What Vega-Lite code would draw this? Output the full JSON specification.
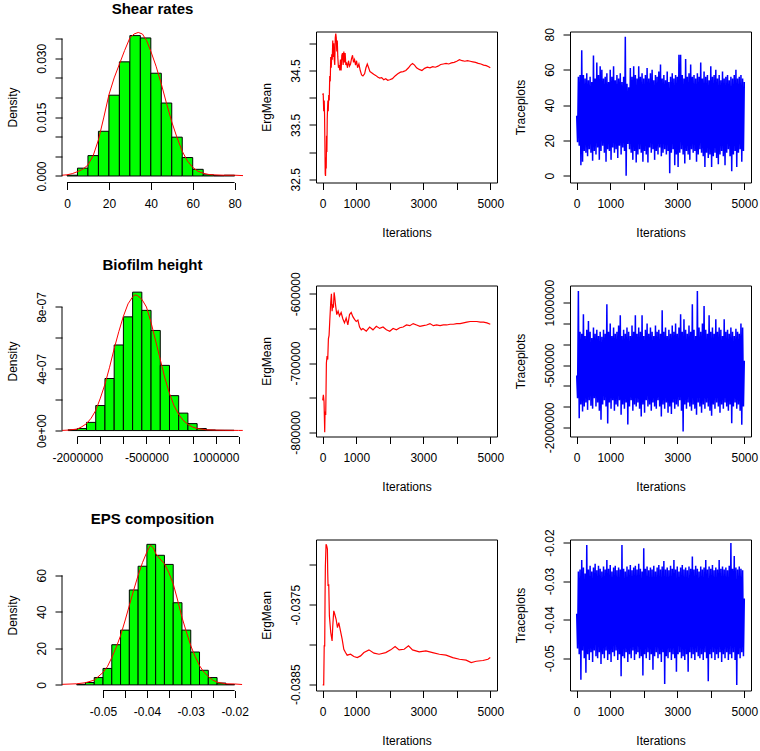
{
"$schema":"https://vega.github.io/schema/vega-lite/v6.json",
"background":"white",
"padding":{"left":5,"top":1.5,"right":5,"bottom":5},
"config":{
 "font":"Liberation Sans",
 "view":{"stroke":null},
 "axis":{"domain":false,"grid":false,"ticks":true,"tickSize":7,"tickColor":"black","tickWidth":1,"labelFont":"Liberation Sans","labelFontSize":12,"labelColor":"black","titleFont":"Liberation Sans","titleFontSize":12,"titleFontWeight":"normal","titleColor":"black","labelFlush":false,"labelOverlap":false,"labelBound":false},
 "axisLeft":{"labelAngle":270,"labelAlign":"center","labelBaseline":"alphabetic","labelPadding":10,"titleBaseline":"alphabetic","titlePadding":19},
 "axisBottom":{"labelAngle":0,"labelAlign":"center","labelBaseline":"alphabetic","labelPadding":18,"titleBaseline":"alphabetic","titlePadding":27},
 "title":{"font":"Liberation Sans","fontSize":15,"fontWeight":"bold","color":"black","anchor":"middle","frame":"group","baseline":"alphabetic","offset":13}
},
"datasets":{
 "h1":[{"a":0,"b":5,"y":0.0002},{"a":5,"b":10,"y":0.002},{"a":10,"b":15,"y":0.0052},{"a":15,"b":20,"y":0.0114},{"a":20,"b":25,"y":0.0206},{"a":25,"b":30,"y":0.0291},{"a":30,"b":35,"y":0.0358},{"a":35,"b":40,"y":0.0352},{"a":40,"b":45,"y":0.0262},{"a":45,"b":50,"y":0.0186},{"a":50,"b":55,"y":0.0099},{"a":55,"b":60,"y":0.0047},{"a":60,"b":65,"y":0.0017},{"a":65,"b":70,"y":0.0003},{"a":70,"b":75,"y":0.0001},{"a":75,"b":80,"y":0.0002}],
 "d1":[{"x":-2.4,"y":0.0002},{"x":0,"y":0.0003},{"x":2.5,"y":0.0006},{"x":5,"y":0.0011},{"x":7.5,"y":0.0017},{"x":10,"y":0.0028},{"x":12.5,"y":0.0052},{"x":15,"y":0.0092},{"x":17.5,"y":0.0148},{"x":20,"y":0.0207},{"x":22.5,"y":0.025},{"x":25,"y":0.0285},{"x":27.5,"y":0.032},{"x":30,"y":0.0352},{"x":32,"y":0.0362},{"x":34,"y":0.0366},{"x":36,"y":0.0362},{"x":38,"y":0.0345},{"x":40,"y":0.0318},{"x":42.5,"y":0.028},{"x":45,"y":0.0235},{"x":47.5,"y":0.0185},{"x":50,"y":0.0138},{"x":52.5,"y":0.0098},{"x":55,"y":0.0063},{"x":57.5,"y":0.0038},{"x":60,"y":0.0022},{"x":62.5,"y":0.0012},{"x":65,"y":0.0007},{"x":67.5,"y":0.0004},{"x":70,"y":0.0003},{"x":75,"y":0.0002},{"x":80,"y":0.0002},{"x":84,"y":0.0001}],
 "e1":[{"i":0,"v":34.05},{"i":15,"v":34.08},{"i":30,"v":33.75},{"i":45,"v":33.95},{"i":55,"v":33.7},{"i":65,"v":33.2},{"i":75,"v":32.6},{"i":85,"v":32.56},{"i":95,"v":32.9},{"i":105,"v":32.7},{"i":115,"v":33.3},{"i":125,"v":33.0},{"i":135,"v":33.6},{"i":145,"v":33.8},{"i":155,"v":33.95},{"i":165,"v":33.75},{"i":180,"v":34.05},{"i":195,"v":33.95},{"i":210,"v":34.4},{"i":225,"v":34.3},{"i":240,"v":34.75},{"i":255,"v":34.55},{"i":270,"v":34.8},{"i":285,"v":34.7},{"i":300,"v":35.05},{"i":315,"v":34.75},{"i":330,"v":35.0},{"i":345,"v":34.7},{"i":360,"v":34.6},{"i":375,"v":35.1},{"i":390,"v":35.18},{"i":405,"v":35.1},{"i":420,"v":34.85},{"i":435,"v":35.05},{"i":450,"v":34.75},{"i":470,"v":34.55},{"i":490,"v":34.6},{"i":510,"v":34.5},{"i":530,"v":34.7},{"i":550,"v":34.5},{"i":570,"v":34.78},{"i":590,"v":34.82},{"i":610,"v":34.6},{"i":630,"v":34.85},{"i":650,"v":34.65},{"i":670,"v":34.82},{"i":690,"v":34.6},{"i":710,"v":34.65},{"i":740,"v":34.55},{"i":770,"v":34.68},{"i":800,"v":34.58},{"i":830,"v":34.62},{"i":860,"v":34.72},{"i":890,"v":34.78},{"i":920,"v":34.65},{"i":950,"v":34.7},{"i":980,"v":34.6},{"i":1010,"v":34.68},{"i":1040,"v":34.55},{"i":1080,"v":34.62},{"i":1120,"v":34.5},{"i":1160,"v":34.42},{"i":1200,"v":34.4},{"i":1250,"v":34.44},{"i":1290,"v":34.55},{"i":1330,"v":34.62},{"i":1370,"v":34.55},{"i":1410,"v":34.48},{"i":1460,"v":34.46},{"i":1520,"v":34.43},{"i":1580,"v":34.41},{"i":1640,"v":34.38},{"i":1700,"v":34.36},{"i":1760,"v":34.37},{"i":1820,"v":34.33},{"i":1880,"v":34.35},{"i":1940,"v":34.32},{"i":2000,"v":34.33},{"i":2080,"v":34.35},{"i":2160,"v":34.4},{"i":2240,"v":34.44},{"i":2320,"v":34.47},{"i":2400,"v":34.48},{"i":2480,"v":34.5},{"i":2560,"v":34.55},{"i":2620,"v":34.6},{"i":2680,"v":34.63},{"i":2740,"v":34.6},{"i":2800,"v":34.55},{"i":2880,"v":34.52},{"i":2960,"v":34.5},{"i":3040,"v":34.54},{"i":3120,"v":34.56},{"i":3200,"v":34.55},{"i":3280,"v":34.57},{"i":3360,"v":34.56},{"i":3440,"v":34.58},{"i":3520,"v":34.61},{"i":3600,"v":34.62},{"i":3680,"v":34.63},{"i":3760,"v":34.62},{"i":3840,"v":34.64},{"i":3920,"v":34.65},{"i":4000,"v":34.67},{"i":4080,"v":34.7},{"i":4160,"v":34.68},{"i":4240,"v":34.67},{"i":4320,"v":34.68},{"i":4400,"v":34.67},{"i":4480,"v":34.66},{"i":4560,"v":34.65},{"i":4640,"v":34.63},{"i":4720,"v":34.62},{"i":4800,"v":34.6},{"i":4880,"v":34.59},{"i":4950,"v":34.57},{"i":5000,"v":34.55}],
 "t1":[{"i":0,"v":34},{"i":25,"v":19},{"i":50,"v":56},{"i":75,"v":17},{"i":100,"v":57},{"i":125,"v":6},{"i":150,"v":71},{"i":175,"v":8},{"i":200,"v":57},{"i":225,"v":14},{"i":250,"v":55},{"i":275,"v":13},{"i":300,"v":58},{"i":325,"v":11},{"i":350,"v":54},{"i":375,"v":15},{"i":400,"v":56},{"i":425,"v":13},{"i":450,"v":53},{"i":475,"v":8.5},{"i":500,"v":68},{"i":525,"v":14},{"i":550,"v":55},{"i":575,"v":12},{"i":600,"v":64},{"i":625,"v":16},{"i":650,"v":57},{"i":675,"v":9},{"i":700,"v":62},{"i":725,"v":14},{"i":750,"v":60},{"i":775,"v":17},{"i":800,"v":55},{"i":825,"v":13},{"i":850,"v":56},{"i":875,"v":8},{"i":900,"v":58},{"i":925,"v":15},{"i":950,"v":53},{"i":975,"v":14},{"i":1000,"v":60},{"i":1025,"v":9},{"i":1050,"v":56},{"i":1075,"v":16},{"i":1100,"v":62},{"i":1125,"v":13},{"i":1150,"v":54},{"i":1175,"v":15},{"i":1200,"v":57},{"i":1225,"v":10},{"i":1250,"v":55},{"i":1275,"v":17},{"i":1300,"v":58},{"i":1325,"v":12},{"i":1350,"v":53},{"i":1375,"v":16},{"i":1400,"v":56},{"i":1425,"v":14},{"i":1450,"v":78.6},{"i":1475,"v":0},{"i":1500,"v":52},{"i":1525,"v":18},{"i":1550,"v":50},{"i":1575,"v":15},{"i":1600,"v":61},{"i":1625,"v":13},{"i":1650,"v":56},{"i":1675,"v":9},{"i":1700,"v":62},{"i":1725,"v":14},{"i":1750,"v":57},{"i":1775,"v":7.5},{"i":1800,"v":55},{"i":1825,"v":12},{"i":1850,"v":62},{"i":1875,"v":15},{"i":1900,"v":56},{"i":1925,"v":13},{"i":1950,"v":58},{"i":1975,"v":8},{"i":2000,"v":55},{"i":2025,"v":14},{"i":2050,"v":57},{"i":2075,"v":12},{"i":2100,"v":61},{"i":2125,"v":7.5},{"i":2150,"v":55},{"i":2175,"v":16},{"i":2200,"v":58},{"i":2225,"v":13},{"i":2250,"v":60},{"i":2275,"v":15},{"i":2300,"v":54},{"i":2325,"v":9},{"i":2350,"v":57},{"i":2375,"v":14},{"i":2400,"v":56},{"i":2425,"v":12},{"i":2450,"v":59},{"i":2475,"v":16},{"i":2500,"v":63},{"i":2525,"v":11},{"i":2550,"v":55},{"i":2575,"v":13},{"i":2600,"v":57},{"i":2625,"v":15},{"i":2650,"v":54},{"i":2675,"v":12},{"i":2700,"v":59},{"i":2725,"v":14},{"i":2750,"v":53},{"i":2775,"v":1.5},{"i":2800,"v":56},{"i":2825,"v":13},{"i":2850,"v":58},{"i":2875,"v":15},{"i":2900,"v":55},{"i":2925,"v":6},{"i":2950,"v":57},{"i":2975,"v":12},{"i":3000,"v":56},{"i":3025,"v":5},{"i":3050,"v":68.5},{"i":3075,"v":13},{"i":3100,"v":68.5},{"i":3125,"v":15},{"i":3150,"v":57},{"i":3175,"v":12},{"i":3200,"v":55},{"i":3225,"v":7},{"i":3250,"v":66},{"i":3275,"v":14},{"i":3300,"v":56},{"i":3325,"v":12},{"i":3350,"v":58},{"i":3375,"v":9},{"i":3400,"v":63},{"i":3425,"v":15},{"i":3450,"v":56},{"i":3475,"v":13},{"i":3500,"v":57},{"i":3525,"v":14},{"i":3550,"v":55},{"i":3575,"v":8},{"i":3600,"v":58},{"i":3625,"v":12},{"i":3650,"v":56},{"i":3675,"v":15},{"i":3700,"v":64},{"i":3725,"v":13},{"i":3750,"v":55},{"i":3775,"v":11},{"i":3800,"v":59},{"i":3825,"v":5},{"i":3850,"v":56},{"i":3875,"v":13},{"i":3900,"v":57},{"i":3925,"v":10},{"i":3950,"v":54},{"i":3975,"v":12},{"i":4000,"v":62},{"i":4025,"v":5},{"i":4050,"v":56},{"i":4075,"v":11},{"i":4100,"v":57},{"i":4125,"v":13},{"i":4150,"v":60},{"i":4175,"v":10},{"i":4200,"v":55},{"i":4225,"v":6.5},{"i":4250,"v":57},{"i":4275,"v":12},{"i":4300,"v":54},{"i":4325,"v":14},{"i":4350,"v":59},{"i":4375,"v":11},{"i":4400,"v":55},{"i":4425,"v":6},{"i":4450,"v":56},{"i":4475,"v":13},{"i":4500,"v":57},{"i":4525,"v":15},{"i":4550,"v":54},{"i":4575,"v":11},{"i":4600,"v":56},{"i":4625,"v":2.5},{"i":4650,"v":55},{"i":4675,"v":12},{"i":4700,"v":57},{"i":4725,"v":14},{"i":4750,"v":60},{"i":4775,"v":5},{"i":4800,"v":55},{"i":4825,"v":13},{"i":4850,"v":56},{"i":4875,"v":15},{"i":4900,"v":57},{"i":4925,"v":8},{"i":4950,"v":55},{"i":4975,"v":14},{"i":5000,"v":53}],
 "h2":[{"a":-2200000,"b":-2000000,"y":5e-9},{"a":-2000000,"b":-1800000,"y":1.3e-8},{"a":-1800000,"b":-1600000,"y":5.3e-8},{"a":-1600000,"b":-1400000,"y":1.62e-7},{"a":-1400000,"b":-1200000,"y":3.37e-7},{"a":-1200000,"b":-1000000,"y":5.54e-7},{"a":-1000000,"b":-800000,"y":7.36e-7},{"a":-800000,"b":-600000,"y":8.96e-7},{"a":-600000,"b":-400000,"y":7.78e-7},{"a":-400000,"b":-200000,"y":6.48e-7},{"a":-200000,"b":0,"y":4.22e-7},{"a":0,"b":200000,"y":2.26e-7},{"a":200000,"b":400000,"y":1.13e-7},{"a":400000,"b":600000,"y":4.5e-8},{"a":600000,"b":800000,"y":1.3e-8},{"a":800000,"b":1000000,"y":4e-9},{"a":1000000,"b":1200000,"y":2e-9},{"a":1200000,"b":1400000,"y":2e-9}],
 "d2":[{"x":-2330000,"y":1e-9},{"x":-2200000,"y":3e-9},{"x":-2000000,"y":1e-8},{"x":-1900000,"y":2.5e-8},{"x":-1800000,"y":4.5e-8},{"x":-1700000,"y":8e-8},{"x":-1600000,"y":1.3e-7},{"x":-1500000,"y":2.1e-7},{"x":-1400000,"y":3.0e-7},{"x":-1300000,"y":4.1e-7},{"x":-1200000,"y":5.3e-7},{"x":-1100000,"y":6.4e-7},{"x":-1000000,"y":7.4e-7},{"x":-900000,"y":8.2e-7},{"x":-800000,"y":8.65e-7},{"x":-750000,"y":8.78e-7},{"x":-700000,"y":8.75e-7},{"x":-600000,"y":8.5e-7},{"x":-500000,"y":8.0e-7},{"x":-400000,"y":7.0e-7},{"x":-300000,"y":5.8e-7},{"x":-200000,"y":4.6e-7},{"x":-100000,"y":3.4e-7},{"x":0,"y":2.4e-7},{"x":100000,"y":1.6e-7},{"x":200000,"y":1.05e-7},{"x":300000,"y":6.5e-8},{"x":400000,"y":4e-8},{"x":500000,"y":2.3e-8},{"x":600000,"y":1.3e-8},{"x":800000,"y":5e-9},{"x":1000000,"y":3e-9},{"x":1200000,"y":2e-9},{"x":1500000,"y":1e-9},{"x":1590000,"y":1e-9}],
 "e2":[{"i":0,"v":-754000},{"i":20,"v":-746000},{"i":40,"v":-756000},{"i":60,"v":-800000},{"i":70,"v":-770000},{"i":90,"v":-775000},{"i":110,"v":-700000},{"i":130,"v":-690000},{"i":150,"v":-695000},{"i":170,"v":-665000},{"i":190,"v":-660000},{"i":210,"v":-640000},{"i":240,"v":-612000},{"i":260,"v":-600000},{"i":280,"v":-625000},{"i":300,"v":-615000},{"i":320,"v":-620000},{"i":340,"v":-598000},{"i":360,"v":-605000},{"i":380,"v":-615000},{"i":420,"v":-630000},{"i":460,"v":-625000},{"i":500,"v":-632000},{"i":550,"v":-627000},{"i":600,"v":-636000},{"i":650,"v":-642000},{"i":700,"v":-635000},{"i":750,"v":-645000},{"i":800,"v":-630000},{"i":850,"v":-627000},{"i":900,"v":-633000},{"i":950,"v":-637000},{"i":1000,"v":-640000},{"i":1050,"v":-638000},{"i":1100,"v":-648000},{"i":1150,"v":-652000},{"i":1200,"v":-650000},{"i":1300,"v":-654000},{"i":1400,"v":-648000},{"i":1500,"v":-652000},{"i":1600,"v":-647000},{"i":1700,"v":-650000},{"i":1800,"v":-648000},{"i":1900,"v":-652000},{"i":2000,"v":-654000},{"i":2100,"v":-650000},{"i":2200,"v":-652000},{"i":2300,"v":-649000},{"i":2400,"v":-648000},{"i":2500,"v":-645000},{"i":2600,"v":-646000},{"i":2700,"v":-643000},{"i":2800,"v":-645000},{"i":2900,"v":-647000},{"i":3000,"v":-646000},{"i":3100,"v":-645000},{"i":3200,"v":-643000},{"i":3300,"v":-646000},{"i":3400,"v":-645000},{"i":3500,"v":-646000},{"i":3600,"v":-645000},{"i":3700,"v":-645000},{"i":3800,"v":-644000},{"i":3900,"v":-644000},{"i":4000,"v":-643000},{"i":4100,"v":-643000},{"i":4200,"v":-642000},{"i":4300,"v":-641000},{"i":4400,"v":-640000},{"i":4500,"v":-640000},{"i":4600,"v":-640000},{"i":4700,"v":-641000},{"i":4800,"v":-641000},{"i":4900,"v":-642000},{"i":5000,"v":-644000}],
 "t2":[{"i":0,"v":-750000},{"i":25,"v":-1300000},{"i":50,"v":1280000},{"i":75,"v":-1780000},{"i":100,"v":300000},{"i":125,"v":-1450000},{"i":150,"v":250000},{"i":175,"v":-1620000},{"i":200,"v":720000},{"i":225,"v":-1500000},{"i":250,"v":200000},{"i":275,"v":-1400000},{"i":300,"v":350000},{"i":325,"v":-1580000},{"i":350,"v":560000},{"i":375,"v":-1350000},{"i":400,"v":300000},{"i":425,"v":-1480000},{"i":450,"v":150000},{"i":475,"v":-1550000},{"i":500,"v":400000},{"i":525,"v":-1300000},{"i":550,"v":250000},{"i":575,"v":-1500000},{"i":600,"v":350000},{"i":625,"v":-1400000},{"i":650,"v":200000},{"i":675,"v":-1600000},{"i":700,"v":300000},{"i":725,"v":-1820000},{"i":750,"v":180000},{"i":775,"v":-1450000},{"i":800,"v":350000},{"i":825,"v":-1350000},{"i":850,"v":250000},{"i":875,"v":-1500000},{"i":900,"v":960000},{"i":925,"v":-1910000},{"i":950,"v":300000},{"i":975,"v":-1400000},{"i":1000,"v":500000},{"i":1025,"v":-1550000},{"i":1050,"v":200000},{"i":1075,"v":-1350000},{"i":1100,"v":400000},{"i":1125,"v":-1600000},{"i":1150,"v":250000},{"i":1175,"v":-1450000},{"i":1200,"v":300000},{"i":1225,"v":-1500000},{"i":1250,"v":450000},{"i":1275,"v":-1350000},{"i":1300,"v":700000},{"i":1325,"v":-1700000},{"i":1350,"v":200000},{"i":1375,"v":-1450000},{"i":1400,"v":350000},{"i":1425,"v":-1550000},{"i":1450,"v":250000},{"i":1475,"v":-1400000},{"i":1500,"v":400000},{"i":1525,"v":-1930000},{"i":1550,"v":300000},{"i":1575,"v":-1500000},{"i":1600,"v":200000},{"i":1625,"v":-1350000},{"i":1650,"v":450000},{"i":1675,"v":-1600000},{"i":1700,"v":300000},{"i":1725,"v":-1450000},{"i":1750,"v":700000},{"i":1775,"v":-1500000},{"i":1800,"v":250000},{"i":1825,"v":-1400000},{"i":1850,"v":400000},{"i":1875,"v":-1550000},{"i":1900,"v":300000},{"i":1925,"v":-1740000},{"i":1950,"v":700000},{"i":1975,"v":-1450000},{"i":2000,"v":200000},{"i":2025,"v":-1650000},{"i":2050,"v":350000},{"i":2075,"v":-1350000},{"i":2100,"v":500000},{"i":2125,"v":-1500000},{"i":2150,"v":250000},{"i":2175,"v":-1450000},{"i":2200,"v":400000},{"i":2225,"v":-1600000},{"i":2250,"v":300000},{"i":2275,"v":-1400000},{"i":2300,"v":200000},{"i":2325,"v":-1500000},{"i":2350,"v":450000},{"i":2375,"v":-1550000},{"i":2400,"v":300000},{"i":2425,"v":-1350000},{"i":2450,"v":350000},{"i":2475,"v":-1500000},{"i":2500,"v":250000},{"i":2525,"v":-1740000},{"i":2550,"v":820000},{"i":2575,"v":-1450000},{"i":2600,"v":300000},{"i":2625,"v":-1550000},{"i":2650,"v":400000},{"i":2675,"v":-1400000},{"i":2700,"v":200000},{"i":2725,"v":-1650000},{"i":2750,"v":350000},{"i":2775,"v":-1500000},{"i":2800,"v":250000},{"i":2825,"v":-1680000},{"i":2850,"v":450000},{"i":2875,"v":-1400000},{"i":2900,"v":300000},{"i":2925,"v":-1550000},{"i":2950,"v":500000},{"i":2975,"v":-1450000},{"i":3000,"v":250000},{"i":3025,"v":-1500000},{"i":3050,"v":400000},{"i":3075,"v":-1350000},{"i":3100,"v":720000},{"i":3125,"v":-1600000},{"i":3150,"v":300000},{"i":3175,"v":-2100000},{"i":3200,"v":600000},{"i":3225,"v":-1450000},{"i":3250,"v":350000},{"i":3275,"v":-1550000},{"i":3300,"v":250000},{"i":3325,"v":-1400000},{"i":3350,"v":450000},{"i":3375,"v":-1500000},{"i":3400,"v":300000},{"i":3425,"v":-1600000},{"i":3450,"v":960000},{"i":3475,"v":-1450000},{"i":3500,"v":350000},{"i":3525,"v":-1550000},{"i":3550,"v":200000},{"i":3575,"v":-1700000},{"i":3600,"v":1280000},{"i":3625,"v":-1400000},{"i":3650,"v":400000},{"i":3675,"v":-1500000},{"i":3700,"v":300000},{"i":3725,"v":-1650000},{"i":3750,"v":500000},{"i":3775,"v":-1450000},{"i":3800,"v":920000},{"i":3825,"v":-1550000},{"i":3850,"v":350000},{"i":3875,"v":-1400000},{"i":3900,"v":250000},{"i":3925,"v":-1500000},{"i":3950,"v":700000},{"i":3975,"v":-1600000},{"i":4000,"v":300000},{"i":4025,"v":-1720000},{"i":4050,"v":400000},{"i":4075,"v":-1450000},{"i":4100,"v":250000},{"i":4125,"v":-1550000},{"i":4150,"v":600000},{"i":4175,"v":-1400000},{"i":4200,"v":300000},{"i":4225,"v":-1500000},{"i":4250,"v":400000},{"i":4275,"v":-1650000},{"i":4300,"v":350000},{"i":4325,"v":-1450000},{"i":4350,"v":200000},{"i":4375,"v":-1550000},{"i":4400,"v":600000},{"i":4425,"v":-1400000},{"i":4450,"v":300000},{"i":4475,"v":-1500000},{"i":4500,"v":350000},{"i":4525,"v":-1600000},{"i":4550,"v":250000},{"i":4575,"v":-1450000},{"i":4600,"v":400000},{"i":4625,"v":-1900000},{"i":4650,"v":300000},{"i":4675,"v":-1500000},{"i":4700,"v":200000},{"i":4725,"v":-1400000},{"i":4750,"v":370000},{"i":4775,"v":-1550000},{"i":4800,"v":300000},{"i":4825,"v":-1450000},{"i":4850,"v":250000},{"i":4875,"v":-1600000},{"i":4900,"v":500000},{"i":4925,"v":-1940000},{"i":4950,"v":400000},{"i":4975,"v":-1500000},{"i":5000,"v":-400000}],
 "h3":[{"a":-0.056,"b":-0.054,"y":0.3},{"a":-0.054,"b":-0.052,"y":1.3},{"a":-0.052,"b":-0.05,"y":4},{"a":-0.05,"b":-0.048,"y":9},{"a":-0.048,"b":-0.046,"y":22},{"a":-0.046,"b":-0.044,"y":30},{"a":-0.044,"b":-0.042,"y":52},{"a":-0.042,"b":-0.04,"y":65},{"a":-0.04,"b":-0.038,"y":77},{"a":-0.038,"b":-0.036,"y":71},{"a":-0.036,"b":-0.034,"y":66},{"a":-0.034,"b":-0.032,"y":45},{"a":-0.032,"b":-0.03,"y":30},{"a":-0.03,"b":-0.028,"y":18},{"a":-0.028,"b":-0.026,"y":8},{"a":-0.026,"b":-0.024,"y":4},{"a":-0.024,"b":-0.022,"y":1},{"a":-0.022,"b":-0.02,"y":0.2}],
 "d3":[{"x":-0.0593,"y":0.3},{"x":-0.056,"y":0.6},{"x":-0.054,"y":1.2},{"x":-0.052,"y":2.6},{"x":-0.05,"y":6.8},{"x":-0.049,"y":10},{"x":-0.048,"y":15},{"x":-0.047,"y":20.5},{"x":-0.046,"y":27},{"x":-0.045,"y":35},{"x":-0.044,"y":43.5},{"x":-0.043,"y":52},{"x":-0.042,"y":60},{"x":-0.041,"y":67},{"x":-0.04,"y":72.8},{"x":-0.0392,"y":76.5},{"x":-0.0385,"y":75},{"x":-0.038,"y":72},{"x":-0.037,"y":69},{"x":-0.036,"y":66.4},{"x":-0.035,"y":61.5},{"x":-0.034,"y":55.4},{"x":-0.033,"y":46.5},{"x":-0.032,"y":37},{"x":-0.031,"y":29},{"x":-0.03,"y":21.5},{"x":-0.029,"y":15.5},{"x":-0.028,"y":10.5},{"x":-0.027,"y":7},{"x":-0.026,"y":4.6},{"x":-0.025,"y":2.7},{"x":-0.024,"y":1.5},{"x":-0.022,"y":0.6},{"x":-0.02,"y":0.5},{"x":-0.0183,"y":0.2}],
 "e3":[{"i":0,"v":-0.038508},{"i":30,"v":-0.038508},{"i":45,"v":-0.038018},{"i":60,"v":-0.038018},{"i":70,"v":-0.0374},{"i":80,"v":-0.037012},{"i":100,"v":-0.03674},{"i":120,"v":-0.03676},{"i":140,"v":-0.0368},{"i":150,"v":-0.0371},{"i":160,"v":-0.037264},{"i":180,"v":-0.037243},{"i":200,"v":-0.037641},{"i":240,"v":-0.03785},{"i":280,"v":-0.037955},{"i":300,"v":-0.037767},{"i":330,"v":-0.037578},{"i":360,"v":-0.03762},{"i":400,"v":-0.037683},{"i":440,"v":-0.037788},{"i":480,"v":-0.037725},{"i":530,"v":-0.037829},{"i":580,"v":-0.037934},{"i":630,"v":-0.03806},{"i":680,"v":-0.038102},{"i":730,"v":-0.038135},{"i":830,"v":-0.038123},{"i":930,"v":-0.038152},{"i":1030,"v":-0.038165},{"i":1130,"v":-0.038144},{"i":1230,"v":-0.038102},{"i":1380,"v":-0.038068},{"i":1530,"v":-0.03811},{"i":1680,"v":-0.038123},{"i":1880,"v":-0.038102},{"i":2030,"v":-0.038068},{"i":2160,"v":-0.038026},{"i":2280,"v":-0.038068},{"i":2430,"v":-0.03806},{"i":2560,"v":-0.038018},{"i":2680,"v":-0.038068},{"i":2880,"v":-0.038093},{"i":3080,"v":-0.038081},{"i":3280,"v":-0.038102},{"i":3480,"v":-0.038123},{"i":3680,"v":-0.038135},{"i":3880,"v":-0.038165},{"i":4080,"v":-0.038186},{"i":4280,"v":-0.038198},{"i":4430,"v":-0.038228},{"i":4580,"v":-0.038211},{"i":4780,"v":-0.038202},{"i":4930,"v":-0.038186},{"i":5000,"v":-0.038165}],
 "t3":[{"i":0,"v":-0.0385},{"i":25,"v":-0.0475},{"i":50,"v":-0.0275},{"i":75,"v":-0.049},{"i":100,"v":-0.027},{"i":125,"v":-0.0556},{"i":150,"v":-0.0245},{"i":175,"v":-0.048},{"i":200,"v":-0.0265},{"i":225,"v":-0.05},{"i":250,"v":-0.028},{"i":275,"v":-0.0538},{"i":300,"v":-0.0206},{"i":325,"v":-0.049},{"i":350,"v":-0.027},{"i":375,"v":-0.0505},{"i":400,"v":-0.026},{"i":425,"v":-0.0485},{"i":450,"v":-0.0275},{"i":475,"v":-0.051},{"i":500,"v":-0.0265},{"i":525,"v":-0.048},{"i":550,"v":-0.0255},{"i":575,"v":-0.0495},{"i":600,"v":-0.0272},{"i":625,"v":-0.05},{"i":650,"v":-0.026},{"i":675,"v":-0.0485},{"i":700,"v":-0.0268},{"i":725,"v":-0.0515},{"i":750,"v":-0.0275},{"i":775,"v":-0.049},{"i":800,"v":-0.0262},{"i":825,"v":-0.05},{"i":850,"v":-0.027},{"i":875,"v":-0.048},{"i":900,"v":-0.0245},{"i":925,"v":-0.0505},{"i":950,"v":-0.0268},{"i":975,"v":-0.049},{"i":1000,"v":-0.0258},{"i":1025,"v":-0.051},{"i":1050,"v":-0.0275},{"i":1075,"v":-0.0485},{"i":1100,"v":-0.0265},{"i":1125,"v":-0.0495},{"i":1150,"v":-0.026},{"i":1175,"v":-0.048},{"i":1200,"v":-0.0272},{"i":1225,"v":-0.0505},{"i":1250,"v":-0.0265},{"i":1275,"v":-0.049},{"i":1300,"v":-0.027},{"i":1325,"v":-0.0547},{"i":1350,"v":-0.0206},{"i":1375,"v":-0.0495},{"i":1400,"v":-0.0268},{"i":1425,"v":-0.05},{"i":1450,"v":-0.0275},{"i":1475,"v":-0.0485},{"i":1500,"v":-0.0262},{"i":1525,"v":-0.051},{"i":1550,"v":-0.027},{"i":1575,"v":-0.049},{"i":1600,"v":-0.0258},{"i":1625,"v":-0.05},{"i":1650,"v":-0.0272},{"i":1675,"v":-0.048},{"i":1700,"v":-0.0265},{"i":1725,"v":-0.0505},{"i":1750,"v":-0.026},{"i":1775,"v":-0.049},{"i":1800,"v":-0.027},{"i":1825,"v":-0.0485},{"i":1850,"v":-0.0255},{"i":1875,"v":-0.05},{"i":1900,"v":-0.0268},{"i":1925,"v":-0.0495},{"i":1950,"v":-0.0275},{"i":1975,"v":-0.0545},{"i":2000,"v":-0.0215},{"i":2025,"v":-0.049},{"i":2050,"v":-0.0268},{"i":2075,"v":-0.05},{"i":2100,"v":-0.0262},{"i":2125,"v":-0.0485},{"i":2150,"v":-0.0272},{"i":2175,"v":-0.0505},{"i":2200,"v":-0.0265},{"i":2225,"v":-0.049},{"i":2250,"v":-0.027},{"i":2275,"v":-0.053},{"i":2300,"v":-0.026},{"i":2325,"v":-0.0495},{"i":2350,"v":-0.0275},{"i":2375,"v":-0.0485},{"i":2400,"v":-0.0265},{"i":2425,"v":-0.05},{"i":2450,"v":-0.0258},{"i":2475,"v":-0.049},{"i":2500,"v":-0.027},{"i":2525,"v":-0.051},{"i":2550,"v":-0.0262},{"i":2575,"v":-0.0485},{"i":2600,"v":-0.0248},{"i":2625,"v":-0.0567},{"i":2650,"v":-0.027},{"i":2675,"v":-0.0495},{"i":2700,"v":-0.0265},{"i":2725,"v":-0.05},{"i":2750,"v":-0.0272},{"i":2775,"v":-0.0485},{"i":2800,"v":-0.026},{"i":2825,"v":-0.0505},{"i":2850,"v":-0.0268},{"i":2875,"v":-0.049},{"i":2900,"v":-0.0245},{"i":2925,"v":-0.05},{"i":2950,"v":-0.027},{"i":2975,"v":-0.0535},{"i":3000,"v":-0.0262},{"i":3025,"v":-0.049},{"i":3050,"v":-0.0275},{"i":3075,"v":-0.0485},{"i":3100,"v":-0.0265},{"i":3125,"v":-0.05},{"i":3150,"v":-0.0258},{"i":3175,"v":-0.0495},{"i":3200,"v":-0.027},{"i":3225,"v":-0.0505},{"i":3250,"v":-0.0265},{"i":3275,"v":-0.049},{"i":3300,"v":-0.0272},{"i":3325,"v":-0.0535},{"i":3350,"v":-0.0262},{"i":3375,"v":-0.0485},{"i":3400,"v":-0.0268},{"i":3425,"v":-0.05},{"i":3450,"v":-0.0236},{"i":3475,"v":-0.049},{"i":3500,"v":-0.027},{"i":3525,"v":-0.0505},{"i":3550,"v":-0.026},{"i":3575,"v":-0.0485},{"i":3600,"v":-0.0268},{"i":3625,"v":-0.0495},{"i":3650,"v":-0.0275},{"i":3675,"v":-0.05},{"i":3700,"v":-0.0262},{"i":3725,"v":-0.049},{"i":3750,"v":-0.027},{"i":3775,"v":-0.0505},{"i":3800,"v":-0.0265},{"i":3825,"v":-0.0485},{"i":3850,"v":-0.0245},{"i":3875,"v":-0.05},{"i":3900,"v":-0.027},{"i":3925,"v":-0.056},{"i":3950,"v":-0.0262},{"i":3975,"v":-0.049},{"i":4000,"v":-0.0268},{"i":4025,"v":-0.05},{"i":4050,"v":-0.0258},{"i":4075,"v":-0.0485},{"i":4100,"v":-0.0272},{"i":4125,"v":-0.0505},{"i":4150,"v":-0.0265},{"i":4175,"v":-0.049},{"i":4200,"v":-0.027},{"i":4225,"v":-0.05},{"i":4250,"v":-0.0245},{"i":4275,"v":-0.0485},{"i":4300,"v":-0.0268},{"i":4325,"v":-0.051},{"i":4350,"v":-0.0262},{"i":4375,"v":-0.049},{"i":4400,"v":-0.027},{"i":4425,"v":-0.05},{"i":4450,"v":-0.0265},{"i":4475,"v":-0.0485},{"i":4500,"v":-0.0272},{"i":4525,"v":-0.0505},{"i":4550,"v":-0.026},{"i":4575,"v":-0.049},{"i":4600,"v":-0.0201},{"i":4625,"v":-0.05},{"i":4650,"v":-0.0268},{"i":4675,"v":-0.0485},{"i":4700,"v":-0.0235},{"i":4725,"v":-0.0505},{"i":4750,"v":-0.0265},{"i":4775,"v":-0.057},{"i":4800,"v":-0.027},{"i":4825,"v":-0.049},{"i":4850,"v":-0.0262},{"i":4875,"v":-0.05},{"i":4900,"v":-0.0268},{"i":4925,"v":-0.0485},{"i":4950,"v":-0.0272},{"i":4975,"v":-0.0495},{"i":5000,"v":-0.0345}]
},
"columns":3,
"spacing":{"row":103,"column":73},
"bounds":"flush",
"concat":[
 {"width":181,"height":151,"view":{"stroke":null},"title":{"text":"Shear rates"},
  "resolve":{"axis":{"x":"independent","y":"independent"}},
  "layer":[
   {"data":{"name":"h1"},"mark":{"type":"bar","fill":"#00FF00","stroke":"black","strokeWidth":1},
    "encoding":{"x":{"field":"a","type":"quantitative","title":null,"scale":{"domain":[-2.39,84.0],"nice":false,"zero":false},"axis":{"title":null,"labelOverlap":false,"values":[0,20,40,60,80],"format":"d"}},
     "x2":{"field":"b"},
     "y":{"field":"y","type":"quantitative","title":"Density","scale":{"domain":[-0.00166,0.03684],"nice":false,"zero":false},"axis":{"title":"Density","labelOverlap":false,"values":[0,0.005,0.01,0.015,0.02,0.025,0.03,0.035],"format":".3f","labelExpr":"indexof([0,0.015,0.03],datum.value) >= 0 ? datum.label : ''"}},
     "y2":{"datum":0}}},
   {"data":{"name":"d1"},"mark":{"type":"line","color":"#FF0000","strokeWidth":1},
    "encoding":{"x":{"field":"x","type":"quantitative","axis":null,"scale":{"domain":[-2.39,84.0],"nice":false,"zero":false}},"y":{"field":"y","type":"quantitative","axis":null,"scale":{"domain":[-0.00166,0.03684],"nice":false,"zero":false}}}},
   {"data":{"values":[{}]},"mark":{"type":"rule","color":"black","strokeWidth":1},
    "encoding":{"x":{"datum":0,"type":"quantitative","axis":null},"x2":{"datum":80},"y":{"datum":-0.00166,"type":"quantitative","axis":null}}},
   {"data":{"values":[{}]},"mark":{"type":"rule","color":"black","strokeWidth":1},
    "encoding":{"x":{"datum":-2.39,"type":"quantitative","axis":null},"y":{"datum":0,"type":"quantitative","axis":null},"y2":{"datum":0.035}}}
  ]},
 {"width":181,"height":151,"view":{"stroke":"black","strokeWidth":1},"data":{"name":"e1"},"mark":{"type":"line","color":"#FF0000","strokeWidth":1.2},
  "encoding":{"x":{"field":"i","type":"quantitative","scale":{"domain":[-200,5200],"nice":false,"zero":false},"axis":{"title":"Iterations","labelOverlap":false,"values":[0,1000,2000,3000,4000,5000],"format":"d","labelExpr":"datum.value == 2000 || datum.value == 4000 ? '' : datum.label"}},
   "y":{"field":"v","type":"quantitative","scale":{"domain":[32.441,35.217],"nice":false,"zero":false},"axis":{"title":"ErgMean","labelOverlap":false,"values":[32.5,33,33.5,34,34.5,35],"format":".1f","labelExpr":"indexof([32.5,33.5,34.5],datum.value) >= 0 ? datum.label : ''"}}}},
 {"width":181,"height":151,"view":{"stroke":"black","strokeWidth":1},"data":{"name":"t1"},"mark":{"type":"line","color":"#0000FF","strokeWidth":1.5},
  "encoding":{"x":{"field":"i","type":"quantitative","scale":{"domain":[-200,5200],"nice":false,"zero":false},"axis":{"title":"Iterations","labelOverlap":false,"values":[0,1000,2000,3000,4000,5000],"format":"d","labelExpr":"datum.value == 2000 || datum.value == 4000 ? '' : datum.label"}},
   "y":{"field":"v","type":"quantitative","scale":{"domain":[-3.8,81.6],"nice":false,"zero":false},"axis":{"title":"Traceplots","labelOverlap":false,"values":[0,20,40,60,80],"format":"d"}}}},
 {"width":181,"height":151,"view":{"stroke":null},"title":{"text":"Biofilm height"},
  "resolve":{"axis":{"x":"independent","y":"independent"}},
  "layer":[
   {"data":{"name":"h2"},"mark":{"type":"bar","fill":"#00FF00","stroke":"black","strokeWidth":1},
    "encoding":{"x":{"field":"a","type":"quantitative","title":null,"scale":{"domain":[-2332000,1595000],"nice":false,"zero":false},"axis":{"title":null,"labelOverlap":false,"values":[-2000000,-1500000,-1000000,-500000,0,500000,1000000,1500000],"format":"d","labelExpr":"indexof([-2000000,-500000,1000000],datum.value) >= 0 ? replace(datum.label,'\u2212','-') : ''"}},
     "x2":{"field":"b"},
     "y":{"field":"y","type":"quantitative","title":"Density","scale":{"domain":[-3.84e-8,9.39e-7],"nice":false,"zero":false},"axis":{"title":"Density","labelOverlap":false,"values":[0,2e-7,4e-7,6e-7,8e-7],"labelExpr":"datum.value == 0 ? '0e+00' : (datum.value > 3.9e-7 && datum.value < 4.1e-7) ? '4e-07' : (datum.value > 7.9e-7 && datum.value < 8.1e-7) ? '8e-07' : ''"}},
     "y2":{"datum":0}}},
   {"data":{"name":"d2"},"mark":{"type":"line","color":"#FF0000","strokeWidth":1},
    "encoding":{"x":{"field":"x","type":"quantitative","axis":null,"scale":{"domain":[-2332000,1595000],"nice":false,"zero":false}},"y":{"field":"y","type":"quantitative","axis":null,"scale":{"domain":[-3.84e-8,9.39e-7],"nice":false,"zero":false}}}},
   {"data":{"values":[{}]},"mark":{"type":"rule","color":"black","strokeWidth":1},
    "encoding":{"x":{"datum":-2000000,"type":"quantitative","axis":null},"x2":{"datum":1500000},"y":{"datum":-3.84e-8,"type":"quantitative","axis":null}}},
   {"data":{"values":[{}]},"mark":{"type":"rule","color":"black","strokeWidth":1},
    "encoding":{"x":{"datum":-2332000,"type":"quantitative","axis":null},"y":{"datum":0,"type":"quantitative","axis":null},"y2":{"datum":8e-7}}}
  ]},
 {"width":181,"height":151,"view":{"stroke":"black","strokeWidth":1},"data":{"name":"e2"},"mark":{"type":"line","color":"#FF0000","strokeWidth":1.2},
  "encoding":{"x":{"field":"i","type":"quantitative","scale":{"domain":[-200,5200],"nice":false,"zero":false},"axis":{"title":"Iterations","labelOverlap":false,"values":[0,1000,2000,3000,4000,5000],"format":"d","labelExpr":"datum.value == 2000 || datum.value == 4000 ? '' : datum.label"}},
   "y":{"field":"v","type":"quantitative","scale":{"domain":[-806100,-588000],"nice":false,"zero":false},"axis":{"title":"ErgMean","labelOverlap":false,"values":[-800000,-750000,-700000,-650000,-600000],"format":"d","labelExpr":"indexof([-800000,-700000,-600000],datum.value) >= 0 ? replace(datum.label,'\u2212','-') : ''"}}}},
 {"width":181,"height":151,"view":{"stroke":"black","strokeWidth":1},"data":{"name":"t2"},"mark":{"type":"line","color":"#0000FF","strokeWidth":1.5},
  "encoding":{"x":{"field":"i","type":"quantitative","scale":{"domain":[-200,5200],"nice":false,"zero":false},"axis":{"title":"Iterations","labelOverlap":false,"values":[0,1000,2000,3000,4000,5000],"format":"d","labelExpr":"datum.value == 2000 || datum.value == 4000 ? '' : datum.label"}},
   "y":{"field":"v","type":"quantitative","scale":{"domain":[-2221000,1414000],"nice":false,"zero":false},"axis":{"title":"Traceplots","labelOverlap":false,"values":[-2000000,-1500000,-1000000,-500000,0,500000,1000000],"format":"d","labelExpr":"indexof([-2000000,-500000,1000000],datum.value) >= 0 ? replace(datum.label,'\u2212','-') : ''"}}}},
 {"width":181,"height":151,"view":{"stroke":null},"title":{"text":"EPS composition"},
  "resolve":{"axis":{"x":"independent","y":"independent"}},
  "layer":[
   {"data":{"name":"h3"},"mark":{"type":"bar","fill":"#00FF00","stroke":"black","strokeWidth":1},
    "encoding":{"x":{"field":"a","type":"quantitative","title":null,"scale":{"domain":[-0.05935,-0.01809],"nice":false,"zero":false},"axis":{"title":null,"labelOverlap":false,"values":[-0.05,-0.045,-0.04,-0.035,-0.03,-0.025,-0.02],"format":".2f","labelExpr":"indexof([-0.05,-0.04,-0.03,-0.02],datum.value) >= 0 ? replace(datum.label,'\u2212','-') : ''"}},
     "x2":{"field":"b"},
     "y":{"field":"y","type":"quantitative","title":"Density","scale":{"domain":[-3.08,79.65],"nice":false,"zero":false},"axis":{"title":"Density","labelOverlap":false,"values":[0,20,40,60],"format":"d"}},
     "y2":{"datum":0}}},
   {"data":{"name":"d3"},"mark":{"type":"line","color":"#FF0000","strokeWidth":1},
    "encoding":{"x":{"field":"x","type":"quantitative","axis":null,"scale":{"domain":[-0.05935,-0.01809],"nice":false,"zero":false}},"y":{"field":"y","type":"quantitative","axis":null,"scale":{"domain":[-3.08,79.65],"nice":false,"zero":false}}}},
   {"data":{"values":[{}]},"mark":{"type":"rule","color":"black","strokeWidth":1},
    "encoding":{"x":{"datum":-0.05,"type":"quantitative","axis":null},"x2":{"datum":-0.02},"y":{"datum":-3.08,"type":"quantitative","axis":null}}},
   {"data":{"values":[{}]},"mark":{"type":"rule","color":"black","strokeWidth":1},
    "encoding":{"x":{"datum":-0.05935,"type":"quantitative","axis":null},"y":{"datum":0,"type":"quantitative","axis":null},"y2":{"datum":60}}}
  ]},
 {"width":181,"height":151,"view":{"stroke":"black","strokeWidth":1},"data":{"name":"e3"},"mark":{"type":"line","color":"#FF0000","strokeWidth":1.2},
  "encoding":{"x":{"field":"i","type":"quantitative","scale":{"domain":[-200,5200],"nice":false,"zero":false},"axis":{"title":"Iterations","labelOverlap":false,"values":[0,1000,2000,3000,4000,5000],"format":"d","labelExpr":"datum.value == 2000 || datum.value == 4000 ? '' : datum.label"}},
   "y":{"field":"v","type":"quantitative","scale":{"domain":[-0.038579,-0.03668],"nice":false,"zero":false},"axis":{"title":"ErgMean","labelOverlap":false,"values":[-0.0385,-0.038,-0.0375,-0.037],"format":".4f","labelExpr":"indexof([-0.0385,-0.0375],datum.value) >= 0 ? replace(datum.label,'\u2212','-') : ''"}}}},
 {"width":181,"height":151,"view":{"stroke":"black","strokeWidth":1},"data":{"name":"t3"},"mark":{"type":"line","color":"#0000FF","strokeWidth":1.5},
  "encoding":{"x":{"field":"i","type":"quantitative","scale":{"domain":[-200,5200],"nice":false,"zero":false},"axis":{"title":"Iterations","labelOverlap":false,"values":[0,1000,2000,3000,4000,5000],"format":"d","labelExpr":"datum.value == 2000 || datum.value == 4000 ? '' : datum.label"}},
   "y":{"field":"v","type":"quantitative","scale":{"domain":[-0.0584,-0.0192],"nice":false,"zero":false},"axis":{"title":"Traceplots","labelOverlap":false,"values":[-0.05,-0.04,-0.03,-0.02],"format":".2f","labelExpr":"replace(datum.label,'\u2212','-')"}}}}
]
}
